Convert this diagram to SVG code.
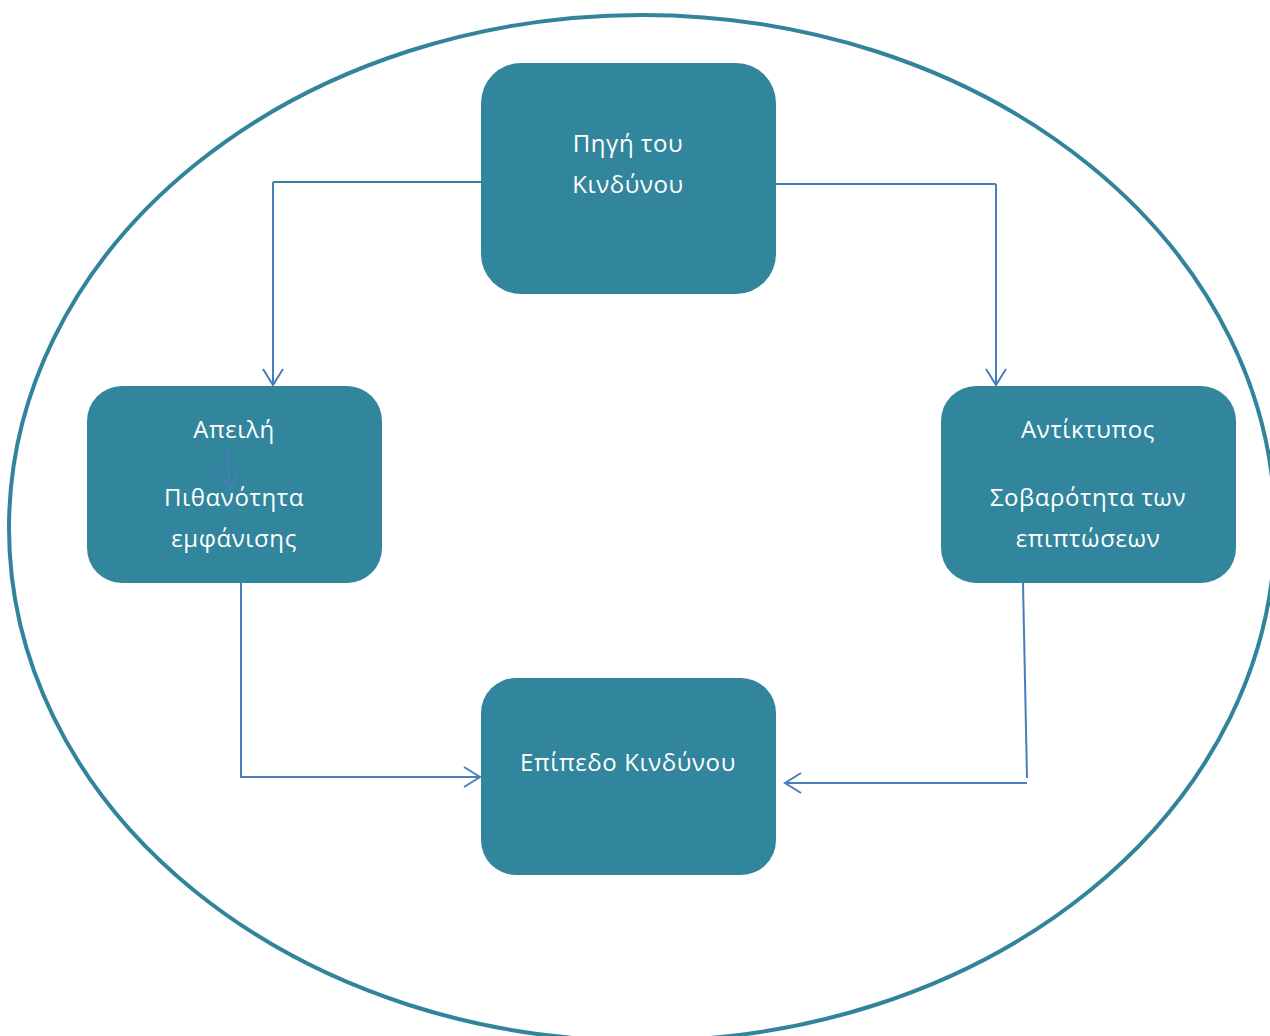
<svg xmlns="http://www.w3.org/2000/svg" width="1270" height="1036" viewBox="0 0 1270 1036">
<style>
.box{fill:#31859c}
.t{font-family:"Open Sans","Noto Sans",sans-serif;font-size:24px;letter-spacing:0.6px;fill:#ffffff;text-anchor:middle}
.teal{stroke:#31859c;stroke-width:2;fill:none}
.blue{stroke:#4a7ebb;stroke-width:2;fill:none}
</style>
<defs>
<marker id="arr" markerWidth="20" markerHeight="24" refX="17" refY="12" orient="auto" markerUnits="userSpaceOnUse">
<path d="M1,2 L17,12 L1,22" fill="none" stroke="#4a7ebb" stroke-width="2"/>
</marker>
</defs>
<rect width="1270" height="1036" fill="#ffffff"/>
<ellipse cx="642" cy="528" rx="633" ry="513" fill="none" stroke="#31849b" stroke-width="4"/>
<g id="connectors">
<line class="teal" x1="481" y1="182" x2="273" y2="182"/>
<line class="blue" x1="273" y1="182" x2="273" y2="385" marker-end="url(#arr)"/>
<line class="blue" x1="776" y1="184" x2="996" y2="184"/>
<line class="blue" x1="996" y1="184" x2="996" y2="385" marker-end="url(#arr)"/>
<polyline class="blue" points="241,583 241,777 480,777" marker-end="url(#arr)"/>
<line class="blue" x1="1023" y1="583" x2="1027" y2="778"/>
<line class="blue" x1="1027" y1="783" x2="785" y2="783" marker-end="url(#arr)"/>
</g>
<g id="n1"><rect class="box" x="481" y="63" width="295" height="231" rx="40"/>
<text class="t" x="628" y="152">Πηγή του</text><text class="t" x="628" y="193">Κινδύνου</text></g>
<g id="n2"><rect class="box" x="87" y="386" width="295" height="197" rx="35"/>
<text class="t" x="234" y="438">Απειλή</text>
<text class="t" x="234" y="506">Πιθανότητα</text><text class="t" x="234" y="547">εμφάνισης</text>
<line class="blue" x1="227" y1="448" x2="230" y2="489" marker-end="url(#arr)"/></g>
<g id="n3"><rect class="box" x="941" y="386" width="295" height="197" rx="35"/>
<text class="t" x="1088" y="438">Αντίκτυπος</text>
<text class="t" x="1088" y="506">Σοβαρότητα των</text><text class="t" x="1088" y="547">επιπτώσεων</text></g>
<g id="n4"><rect class="box" x="481" y="678" width="295" height="197" rx="35"/>
<text class="t" x="628" y="771">Επίπεδο Κινδύνου</text></g>
</svg>
